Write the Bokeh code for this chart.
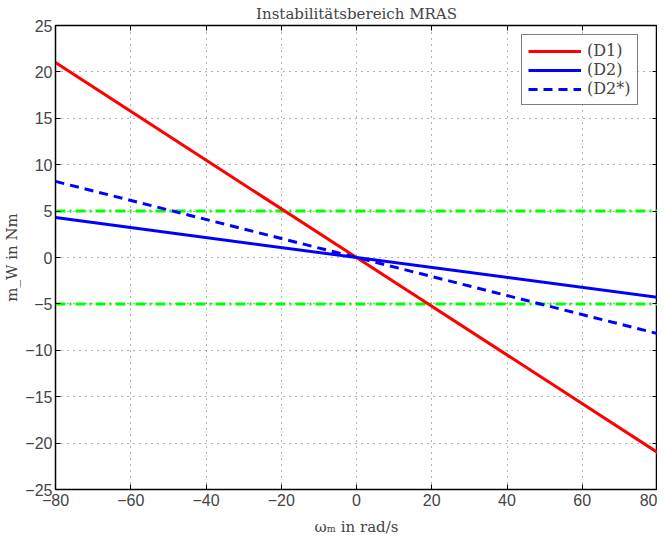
from bokeh.plotting import figure
from bokeh.models import Range1d, LinearAxis, FixedTicker, Legend, LegendItem
from bokeh.embed import file_html
from bokeh.resources import INLINE

omega = [-80, 80]
d1 = [21.0, -21.0]
d2 = [4.3, -4.3]
d2s = [8.2, -8.2]
limits = [5, -5]
x_ticks = [-80, -60, -40, -20, 0, 20, 40, 60, 80]
y_ticks = [-25, -20, -15, -10, -5, 0, 5, 10, 15, 20, 25]

p = figure(width=657, height=538, output_backend="svg", toolbar_location=None,
           x_range=Range1d(-80, 80), y_range=Range1d(-25, 25),
           min_border_left=0, min_border_right=0, min_border_top=0, min_border_bottom=0,
           title="Instabilitätsbereich MRAS")
p.title.align = "center"
p.title.text_font = "DejaVu Serif"
p.title.text_font_style = "normal"
p.title.text_font_size = "15px"
p.title.standoff = 5
p.outline_line_color = "black"
p.outline_line_width = 1.5
p.background_fill_color = "white"
p.border_fill_color = "white"

for ax in [p.xaxis[0], p.yaxis[0]]:
    ax.major_tick_in = 5
    ax.major_tick_out = 0
    ax.minor_tick_line_color = None
    ax.major_label_text_font = "Liberation Sans"
    ax.major_label_text_font_size = "16px"
    ax.axis_line_color = "black"
    ax.axis_label_text_font = "DejaVu Serif"
    ax.axis_label_text_font_style = "normal"
    ax.axis_label_text_font_size = "15px"
p.xaxis[0].ticker = FixedTicker(ticks=x_ticks)
p.yaxis[0].ticker = FixedTicker(ticks=y_ticks)
p.xaxis[0].major_label_overrides = {t: str(t).replace("-", "\u2212") for t in x_ticks}
p.yaxis[0].major_label_overrides = {t: str(t).replace("-", "\u2212") for t in y_ticks}
p.xaxis[0].axis_label = "ωₘ in rad/s"
p.yaxis[0].axis_label = "m_W in Nm"
p.xaxis[0].axis_label_standoff = 9
p.xaxis[0].major_label_standoff = 4
p.yaxis[0].axis_label_standoff = 1
p.yaxis[0].major_label_standoff = 3

top = LinearAxis(ticker=FixedTicker(ticks=x_ticks), major_label_text_font_size="0px",
                 major_tick_in=5, major_tick_out=0, minor_tick_line_color=None,
                 major_label_standoff=0)
right = LinearAxis(ticker=FixedTicker(ticks=y_ticks), major_label_text_font_size="0px",
                   major_tick_in=5, major_tick_out=0, minor_tick_line_color=None,
                   major_label_standoff=0)
top.major_label_text_color = None
right.major_label_text_color = None
p.add_layout(top, "above")
p.add_layout(right, "right")

p.xgrid.ticker = FixedTicker(ticks=x_ticks)
p.ygrid.ticker = FixedTicker(ticks=y_ticks)
for g in [p.xgrid[0], p.ygrid[0]]:
    g.grid_line_color = "black"
    g.grid_line_dash = "1 5"
    g.grid_line_alpha = 0.6

for yv in limits:
    p.line(omega, [yv, yv], line_color="#00FF00", line_width=3, line_dash="10 4 2 4")

r1 = p.line(omega, d1, line_color="red", line_width=3)
r2 = p.line(omega, d2, line_color="blue", line_width=3)
r3 = p.line(omega, d2s, line_color="blue", line_width=3, line_dash="9 6")

legend = Legend(items=[LegendItem(label="(D1)", renderers=[r1]),
                       LegendItem(label="(D2)", renderers=[r2]),
                       LegendItem(label="(D2*)", renderers=[r3])],
                location=(466, 384))
legend.label_text_font = "DejaVu Serif"
legend.label_text_font_size = "16px"
legend.glyph_width = 53
legend.glyph_height = 16
legend.spacing = 0
legend.padding = 6
legend.margin = 0
legend.border_line_color = "black"
legend.border_line_width = 1.5
legend.label_standoff = 6
p.add_layout(legend, "center")

open("out.html", "w").write(file_html(p, INLINE))
